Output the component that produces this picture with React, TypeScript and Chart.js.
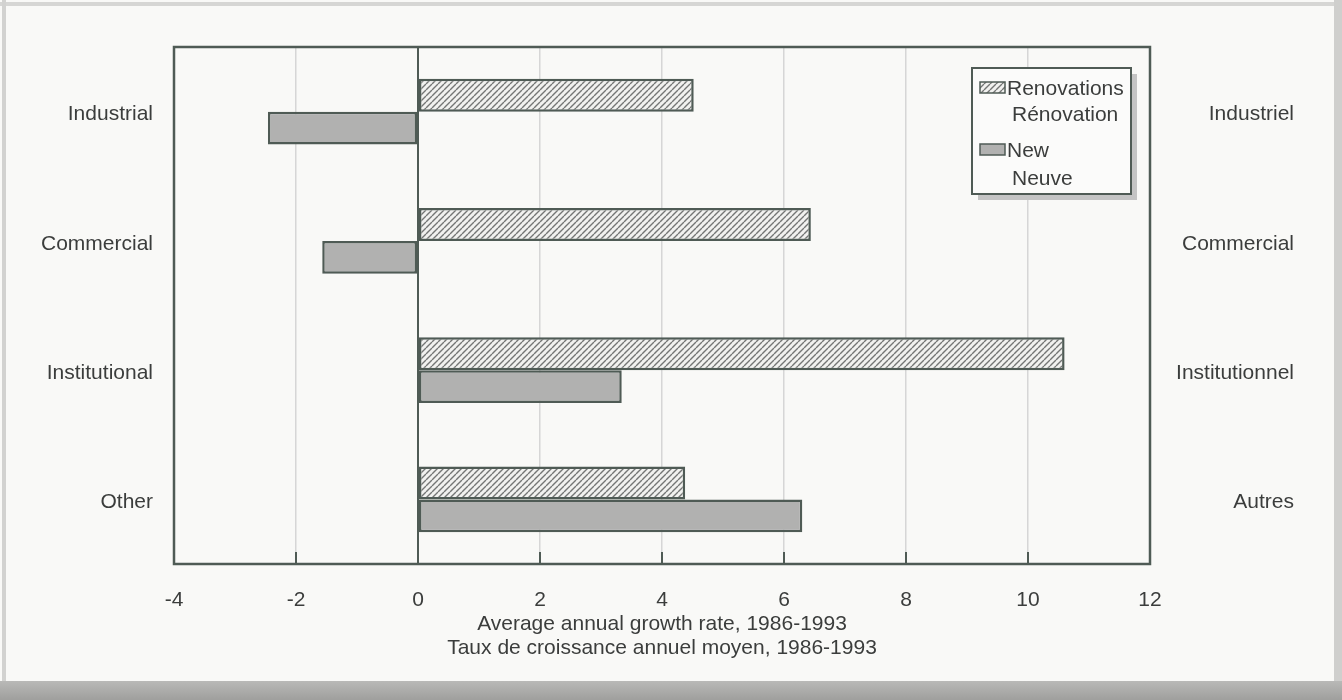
import React, { useEffect, useRef } from 'react';
import { Chart, registerables } from 'chart.js';

Chart.register(...registerables);

// ---- data ----
const categories = ['Industrial', 'Commercial', 'Institutional', 'Other'];
const categoriesFr = ['Industriel', 'Commercial', 'Institutionnel', 'Autres'];
const renovations = [4.52, 6.44, 10.6, 4.38];
const newConstruction = [-2.46, -1.57, 3.34, 6.3];
const xTicks = [-4, -2, 0, 2, 4, 6, 8, 10, 12];
const legendRenovations = ['Renovations', 'Rénovation'];
const legendNew = ['New', 'Neuve'];
const axisTitle = ['Average annual growth rate, 1986-1993', 'Taux de croissance annuel moyen, 1986-1993'];

const FONT_FAMILY = "'Liberation Sans', Arial, Helvetica, sans-serif";
const TEXT = '#3b3d3c';
const EDGE = '#4f5b55';
const NEW_FILL = '#b1b1b0';

function makeHatch(): CanvasPattern | string {
  const c = document.createElement('canvas');
  c.width = 6;
  c.height = 6;
  const g = c.getContext('2d');
  if (!g) return '#d8d8d8';
  g.fillStyle = '#f1f1ef';
  g.fillRect(0, 0, 6, 6);
  g.strokeStyle = '#747675';
  g.lineWidth = 1.4;
  g.beginPath();
  for (let x = -6; x <= 6; x += 6) {
    g.moveTo(x, 6);
    g.lineTo(x + 6, 0);
  }
  g.stroke();
  const p = g.createPattern(c, 'repeat');
  return p || '#d8d8d8';
}

export default function App() {
  const canvasRef = useRef<HTMLCanvasElement | null>(null);

  useEffect(() => {
    const canvas = canvasRef.current;
    if (!canvas) return;
    const hatch = makeHatch();
    const font = { family: FONT_FAMILY, size: 21 };

    const framePlugin = {
      id: 'frameAndLegend',
      afterDatasetsDraw(chart: any) {
        const { ctx, chartArea: a, scales } = chart;
        ctx.save();
        // inner tick marks along the bottom
        ctx.strokeStyle = EDGE;
        ctx.lineWidth = 2;
        xTicks.forEach((v) => {
          const px = scales.x.getPixelForValue(v);
          ctx.beginPath();
          ctx.moveTo(px, a.bottom);
          ctx.lineTo(px, a.bottom - 12);
          ctx.stroke();
        });
        // plot border
        ctx.lineWidth = 2.5;
        ctx.strokeRect(a.left, a.top, a.right - a.left, a.bottom - a.top);
        ctx.restore();
      },
      afterDraw(chart: any) {
        const { ctx, chartArea: a } = chart;
        const L = a.right - 178;
        const T = a.top + 21;
        const W = 159;
        const H = 126;
        ctx.save();
        ctx.fillStyle = '#c4c4c4';
        ctx.fillRect(L + 6, T + 6, W, H);
        ctx.fillStyle = '#fbfbfa';
        ctx.fillRect(L, T, W, H);
        ctx.strokeStyle = EDGE;
        ctx.lineWidth = 2;
        ctx.strokeRect(L, T, W, H);

        ctx.font = `21px ${FONT_FAMILY}`;
        ctx.fillStyle = TEXT;
        ctx.textBaseline = 'middle';
        ctx.textAlign = 'left';

        // row 1
        ctx.fillStyle = hatch as any;
        ctx.fillRect(L + 8, T + 14, 25, 11);
        ctx.strokeStyle = EDGE;
        ctx.lineWidth = 1.5;
        ctx.strokeRect(L + 8, T + 14, 25, 11);
        ctx.fillStyle = TEXT;
        ctx.fillText(legendRenovations[0], L + 35, T + 21);
        ctx.fillText(legendRenovations[1], L + 40, T + 47);

        // row 2
        ctx.fillStyle = NEW_FILL;
        ctx.fillRect(L + 8, T + 76, 25, 11);
        ctx.strokeRect(L + 8, T + 76, 25, 11);
        ctx.fillStyle = TEXT;
        ctx.fillText(legendNew[0], L + 35, T + 83);
        ctx.fillText(legendNew[1], L + 40, T + 111);
        ctx.restore();
      },
    };

    const chart = new Chart(canvas, {
      type: 'bar',
      data: {
        labels: categories,
        datasets: [
          {
            label: legendRenovations.join(' / '),
            data: renovations,
            backgroundColor: hatch as any,
            borderColor: EDGE,
            borderWidth: 2.5,
            borderSkipped: false,
            categoryPercentage: 0.51,
            barPercentage: 1.0,
            yAxisID: 'y',
          },
          {
            label: legendNew.join(' / '),
            data: newConstruction,
            backgroundColor: NEW_FILL,
            borderColor: EDGE,
            borderWidth: 2.5,
            borderSkipped: false,
            categoryPercentage: 0.51,
            barPercentage: 1.0,
            yAxisID: 'y',
          },
        ],
      },
      options: {
        indexAxis: 'y',
        responsive: false,
        animation: false,
        layout: { padding: { top: 47, right: 48, bottom: 0, left: 0 } },
        plugins: {
          legend: { display: false },
          tooltip: { enabled: false },
        },
        scales: {
          x: {
            type: 'linear',
            min: xTicks[0],
            max: xTicks[xTicks.length - 1],
            afterBuildTicks: (s: any) => {
              s.ticks = xTicks.map((v) => ({ value: v }));
            },
            grid: {
              color: (c: any) => (c.tick && c.tick.value === 0 ? EDGE : '#d6d6d6'),
              lineWidth: (c: any) => (c.tick && c.tick.value === 0 ? 2 : 1.5),
              drawTicks: false,
            },
            border: { display: false },
            ticks: { font, color: TEXT, padding: 24, maxRotation: 0, autoSkip: false },
            title: {
              display: true,
              text: axisTitle,
              font: { family: FONT_FAMILY, size: 21, lineHeight: 24 / 21 },
              color: TEXT,
              padding: { top: 0, bottom: 40 },
            },
            afterFit: (s: any) => {
              s.height = 136;
            },
          },
          y: {
            type: 'category',
            position: 'left',
            offset: true,
            grid: { display: false, drawTicks: false },
            border: { display: false },
            ticks: { font, color: TEXT, padding: 21, labelOffset: 3 },
            afterFit: (s: any) => {
              s.width = 174;
            },
          },
          y2: {
            type: 'category',
            labels: categoriesFr,
            position: 'right',
            offset: true,
            grid: { display: false, drawTicks: false },
            border: { display: false },
            ticks: { font, color: TEXT, padding: 0, crossAlign: 'far', labelOffset: 3 },
            afterFit: (s: any) => {
              s.width = 144;
            },
          },
        },
      } as any,
      plugins: [framePlugin],
    });

    return () => chart.destroy();
  }, []);

  return (
    <div
      style={{
        position: 'absolute',
        left: 0,
        top: 0,
        width: 1342,
        height: 700,
        background: '#f9f9f7',
        overflow: 'hidden',
      }}
    >
      <div style={{ position: 'absolute', left: 0, top: 2, width: 1342, height: 4, background: '#d6d6d4' }} />
      <div style={{ position: 'absolute', left: 2, top: 0, width: 4, height: 700, background: '#d2d2d0' }} />
      <div style={{ position: 'absolute', left: 1334, top: 0, width: 8, height: 700, background: '#cfcfcd' }} />
      <div
        style={{
          position: 'absolute',
          left: 0,
          top: 681,
          width: 1342,
          height: 19,
          background: 'linear-gradient(#b9b9b7, #9f9f9d)',
        }}
      />
      <canvas
        ref={canvasRef}
        width={1342}
        height={700}
        style={{ position: 'absolute', left: 0, top: 0, width: 1342, height: 700 }}
      />
    </div>
  );
}
